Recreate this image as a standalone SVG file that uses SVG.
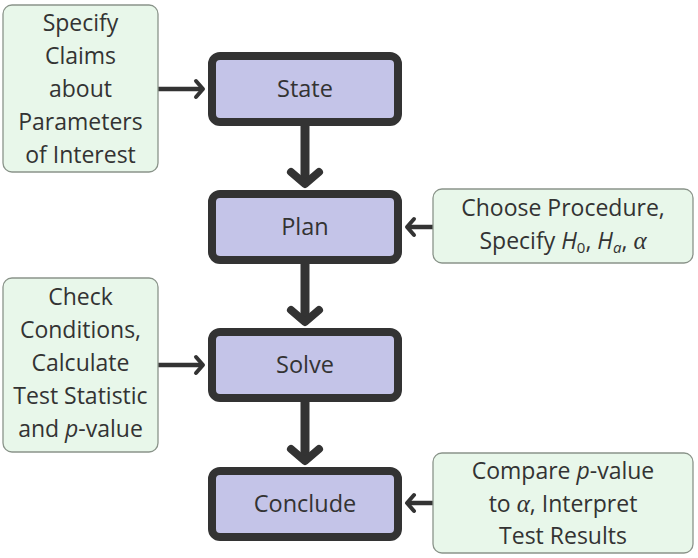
<svg xmlns="http://www.w3.org/2000/svg" width="698" height="558" viewBox="0 0 698 558">
<style>
.main rect{fill:#c4c4e8;stroke:#333;stroke-width:8}
.main text{font-size:23.5px}
.side rect{fill:#e8f7ea;stroke:#8a948a;stroke-width:1.3}
text{font-family:"Open Sans","Liberation Sans",sans-serif;font-size:23px;fill:#333;text-anchor:middle}
.it{font-style:italic}
.gk{font-family:"Liberation Serif",serif;font-style:italic;font-size:25px}
.big{fill:none;stroke:#333;stroke-width:9}
.small{fill:none;stroke:#333;stroke-width:4.5}
</style>
<defs>
<marker id="hb" markerUnits="userSpaceOnUse" viewBox="-20 -20 40 40" markerWidth="40" markerHeight="40" refX="0" refY="0" orient="auto">
<path d="M-12,-14 L0,0 L-12,14" fill="none" stroke="#333" stroke-width="8" stroke-linecap="round" stroke-linejoin="round"/>
</marker>
<marker id="hs" markerUnits="userSpaceOnUse" viewBox="-20 -20 40 40" markerWidth="40" markerHeight="40" refX="0" refY="0" orient="auto">
<path d="M-7,-8 L0,0 L-7,8" fill="none" stroke="#333" stroke-width="4" stroke-linecap="round" stroke-linejoin="round"/>
</marker>
</defs>
<g id="connectors">
<line class="big" x1="305" y1="126" x2="305" y2="184" marker-end="url(#hb)"/>
<line class="big" x1="305" y1="263" x2="305" y2="322" marker-end="url(#hb)"/>
<line class="big" x1="305" y1="402" x2="305" y2="461" marker-end="url(#hb)"/>
<line class="small" x1="158" y1="89" x2="203" y2="89" marker-end="url(#hs)"/>
<line class="small" x1="433" y1="227" x2="407" y2="227" marker-end="url(#hs)"/>
<line class="small" x1="158" y1="365" x2="203" y2="365" marker-end="url(#hs)"/>
<line class="small" x1="433" y1="503" x2="407" y2="503" marker-end="url(#hs)"/>
</g>
<g id="state" class="main"><rect x="212" y="56" width="186" height="66" rx="8"/><text x="305" y="97">State</text></g>
<g id="plan" class="main"><rect x="212" y="194" width="186" height="66" rx="8"/><text x="305" y="235">Plan</text></g>
<g id="solve" class="main"><rect x="212" y="332" width="186" height="66" rx="8"/><text x="305" y="373">Solve</text></g>
<g id="conclude" class="main"><rect x="212" y="471" width="186" height="66" rx="8"/><text x="305" y="512">Conclude</text></g>
<g id="claims" class="side"><rect x="3" y="5" width="155" height="167" rx="9"/>
<text x="80.5" y="31">Specify</text><text x="80.5" y="64">Claims</text><text x="80.5" y="97">about</text><text x="80.5" y="130">Parameters</text><text x="80.5" y="163">of Interest</text></g>
<g id="procedure" class="side"><rect x="433" y="189" width="260" height="74" rx="9"/>
<text x="563" y="216">Choose Procedure,</text>
<text x="563" y="249">Specify <tspan class="it">H</tspan><tspan font-size="15" dy="4">0</tspan><tspan dy="-4">, </tspan><tspan class="it">H</tspan><tspan class="it" font-size="15" dy="4">a</tspan><tspan dy="-4">, </tspan><tspan class="gk">α</tspan></text></g>
<g id="conditions" class="side"><rect x="3" y="278" width="155" height="174" rx="9"/>
<text x="80.5" y="305">Check</text><text x="80.5" y="338">Conditions,</text><text x="80.5" y="371">Calculate</text><text x="80.5" y="404">Test Statistic</text><text x="80.5" y="437">and <tspan class="it">p</tspan>-value</text></g>
<g id="compare" class="side"><rect x="433" y="453" width="260" height="100" rx="9"/>
<text x="563" y="479">Compare <tspan class="it">p</tspan>-value</text>
<text x="563" y="512">to <tspan class="gk">α</tspan>, Interpret</text>
<text x="563" y="544">Test Results</text></g>
</svg>
